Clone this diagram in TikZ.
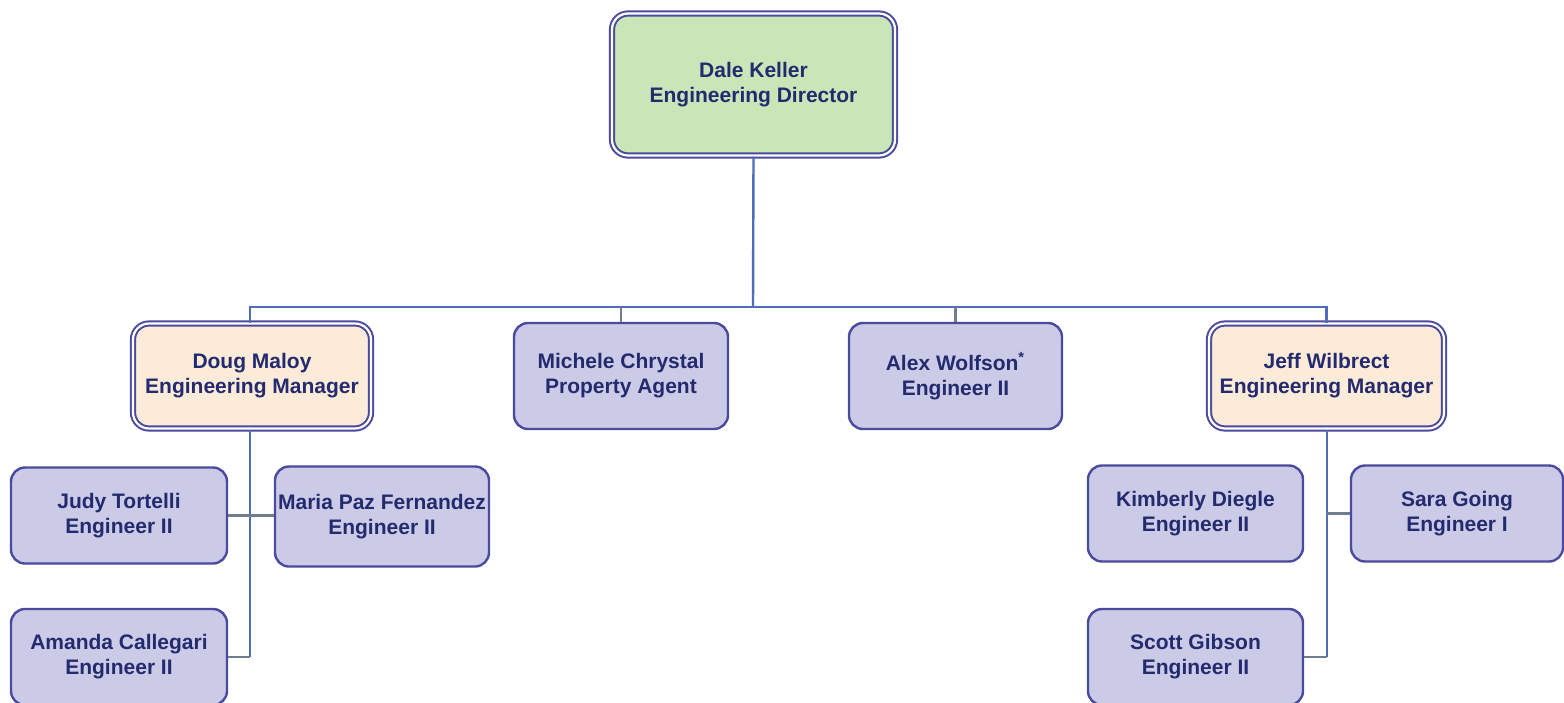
\documentclass[tikz,border=0pt]{standalone}
\usepackage{fontspec}
\setmainfont{Liberation Sans}
\begin{document}
\begin{tikzpicture}[x=0.5pt,y=-0.5pt,
  every node/.style={font=\fontsize{10.5}{12.5}\selectfont\bfseries, text=txt, align=center, inner sep=0pt},
  person/.style={draw=bord, line width=1.2pt, rounded corners=7pt, fill=lav},
  lead/.style={draw=bord, line width=1pt, double=white, double distance=1.1pt, rounded corners=8pt},
  vline/.style={draw=conn, line width=1.2pt},
  sline/.style={draw=stub, line width=1.1pt}]
\definecolor{txt}{HTML}{232A6E}
\definecolor{bord}{HTML}{4A4A9E}
\definecolor{lav}{HTML}{CBCBE8}
\definecolor{grn}{HTML}{C8E6B8}
\definecolor{peach}{HTML}{FBEBD8}
\definecolor{conn}{HTML}{4F6DBA}
\definecolor{stub}{HTML}{707C90}
\useasboundingbox[fill=white] (0,0) rectangle (1564,702);

\node[lead, fill=grn, minimum width=141.5pt, minimum height=71pt] (dale) at (753.5,84.5) {Dale Keller\\Engineering Director};
\node[lead, fill=peach, minimum width=119pt, minimum height=52.5pt] (doug) at (252,376) {Doug Maloy\\Engineering Manager};
\node[person, minimum width=107pt, minimum height=53pt] (michele) at (621,376) {Michele Chrystal\\Property Agent};
\node[person, minimum width=106.5pt, minimum height=53pt] (alex) at (955.5,376) {Alex Wolfson\textsuperscript{*}\\Engineer II};
\node[lead, fill=peach, minimum width=117.5pt, minimum height=52.5pt] (jeff) at (1326.5,376) {Jeff Wilbrect\\Engineering Manager};

\node[person, minimum width=108pt, minimum height=48pt] (judy) at (119,515.5) {Judy Tortelli\\Engineer II};
\node[person, minimum width=107pt, minimum height=50pt] (maria) at (382,516.5) {Maria Paz Fernandez\\Engineer II};
\node[person, minimum width=108pt, minimum height=48pt] (amanda) at (119,657) {Amanda Callegari\\Engineer II};

\node[person, minimum width=107.5pt, minimum height=48pt] (kim) at (1195.5,513.5) {Kimberly Diegle\\Engineer II};
\node[person, minimum width=106pt, minimum height=48pt] (sara) at (1457,513.5) {Sara Going\\Engineer I};
\node[person, minimum width=107.5pt, minimum height=48pt] (scott) at (1195.5,657) {Scott Gibson\\Engineer II};

\coordinate (bus) at (753,307);
\draw[vline] (dale.south) -- (bus);
\draw[vline] (doug.north -| 250,0) -- (bus -| 250,0) -- (bus -| jeff.north) -- (jeff.north);
\draw[sline] (michele.north) -- (michele.north |- bus);
\draw[sline] (alex.north) -- (alex.north |- bus);

\coordinate (dv) at (250,657);
\draw[vline] (doug.south -| dv) -- (dv);
\draw[sline] (dv) -- (amanda.east);
\draw[sline] (judy.east) -- (judy.east -| maria.west);

\coordinate (jv) at (1327,657);
\draw[vline] (jeff.south -| jv) -- (jv);
\draw[sline] (jv) -- (scott.east);
\draw[sline] (sara.west) -- (sara.west -| jv);
\end{tikzpicture}
\end{document}
